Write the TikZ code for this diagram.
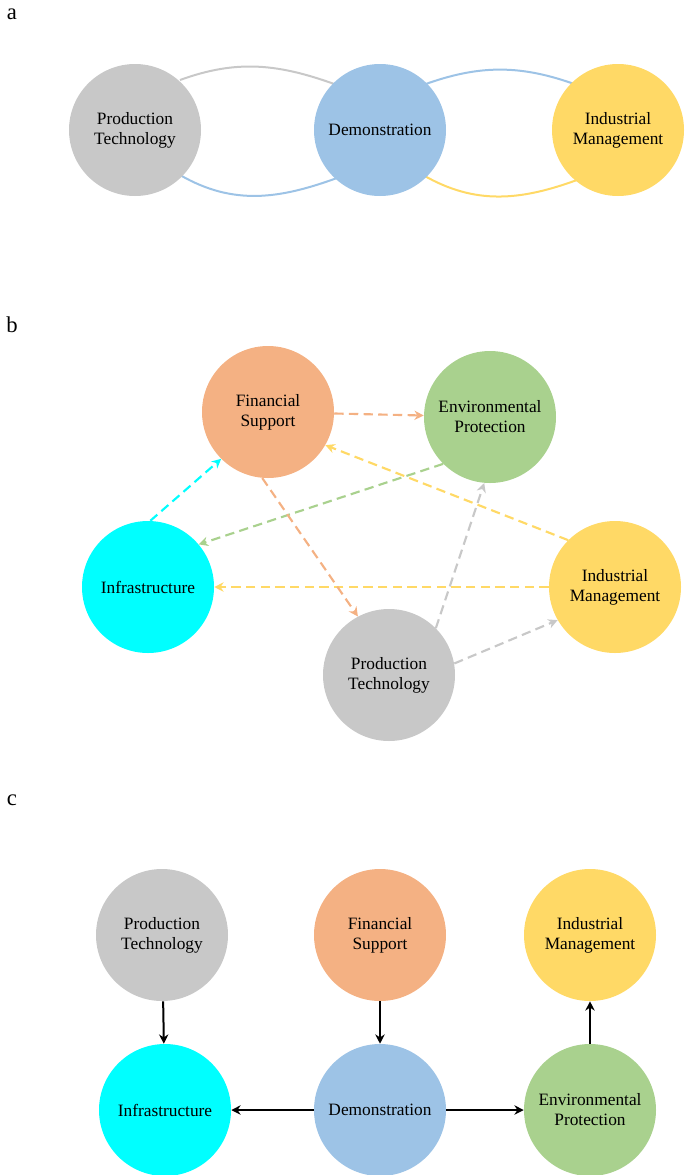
\documentclass[tikz,border=0pt]{standalone}
\usepackage{fontspec}
\setmainfont{Liberation Serif}
\usetikzlibrary{arrows.meta, positioning}
\definecolor{cgray}{HTML}{C8C8C8}
\definecolor{cblue}{HTML}{9DC3E6}
\definecolor{cyell}{HTML}{FFD966}
\definecolor{corng}{HTML}{F4B183}
\definecolor{cgren}{HTML}{A9D18E}
\definecolor{ccyan}{HTML}{00FFFF}
\tikzset{
  ball/.style={circle, minimum size=99pt, inner sep=0pt, align=center, font=\fontsize{13}{15}\selectfont},
  panel/.style={font=\fontsize{17}{19}\selectfont},
  dash arrow/.style={-{Stealth[length=7pt,width=7pt]}, dashed, dash pattern=on 7pt off 4pt, line width=1.6pt},
  flow/.style={-{Stealth[length=7pt,width=7pt]}, line width=1.5pt}
}
\begin{document}
\begin{tikzpicture}[x=0.75pt, y=-0.75pt]
    \useasboundingbox (0,0) rectangle (685,1175);

    % panel a
    \node[panel] (la) at (12,14) {a};
    \draw[cgray, line width=1.5pt] (180,80) to[out=20,in=160] (337,85);
    \draw[cblue, line width=1.5pt] (180,175) to[out=-30,in=-160] (337,178);
    \draw[cblue, line width=1.5pt] (423,85) to[out=20,in=160] (577,85);
    \draw[cyell, line width=1.5pt] (423,175) to[out=-30,in=-160] (577,180);
    \node[ball, fill=cgray] (aprod) at (135,130) {Production\\Technology};
    \node[ball, fill=cblue] (ademo) at (380,130) {Demonstration};
    \node[ball, fill=cyell] (aind) at (618,130) {Industrial\\Management};

    % panel b
    \node[panel] (lb) at (12,325) {b};
    \node[ball, fill=corng] (bfin) at (268,412) {Financial\\Support};
    \node[ball, fill=cgren] (benv) at (490,417) {Environmental\\Protection};
    \node[ball, fill=ccyan] (binf) at (148,587) {Infrastructure};
    \node[ball, fill=cyell] (bind) at (615,587) {Industrial\\Management};
    \node[ball, fill=cgray] (bprod) at (389,675) {Production\\Technology};
    \draw[dash arrow, corng] (bfin) -- (benv);
    \draw[dash arrow, ccyan] (binf.88) -- (bfin.225);
    \draw[dash arrow, cgren] (benv.225) -- (binf.40);
    \draw[dash arrow, cyell] (bind.135) -- (bfin.330);
    \draw[dash arrow, cyell] (bind) -- (binf);
    \draw[dash arrow, corng] (bfin.265) -- (bprod.118);
    \draw[dash arrow, cgray] (bprod.45) -- (benv.265);
    \draw[dash arrow, cgray] (bprod.10) -- (bind.210);

    % panel c
    \node[panel] (lc) at (12,800) {c};
    \node[ball, fill=cgray] (cprod) at (162,935) {Production\\Technology};
    \node[ball, fill=corng] (cfin) at (380,935) {Financial\\Support};
    \node[ball, fill=cyell] (cind) at (590,935) {Industrial\\Management};
    \node[ball, fill=ccyan] (cinf) at (165,1110) {Infrastructure};
    \node[ball, fill=cblue] (cdemo) at (380,1110) {Demonstration};
    \node[ball, fill=cgren] (cenv) at (590,1110) {Environmental\\Protection};
    \draw[flow] (cprod) -- (cinf);
    \draw[flow] (cfin) -- (cdemo);
    \draw[flow] (cenv) -- (cind);
    \draw[flow] (cdemo) -- (cinf);
    \draw[flow] (cdemo) -- (cenv);
\end{tikzpicture}
\end{document}
